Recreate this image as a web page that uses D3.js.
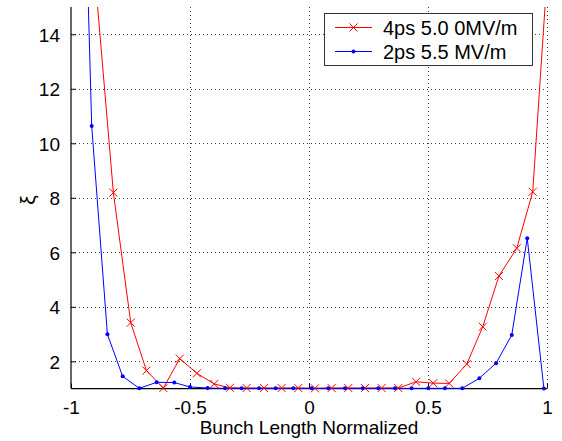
<!DOCTYPE html>
<html>
<head>
<meta charset="utf-8">
<script src="https://cdn.jsdelivr.net/npm/d3@7"></script>
<style>
  html, body { margin: 0; padding: 0; background: #fff; }
  svg { display: block; }
  text { font-family: "Liberation Sans", Arial, Helvetica, sans-serif; fill: #000; }
</style>
</head>
<body>
<svg id="chart" width="562" height="441"></svg>
<script>
// ---- data ----
const seriesNames = ["4ps 5.0 0MV/m", "2ps 5.5 MV/m"];
const redX = [-0.893, -0.822, -0.749, -0.683, -0.612, -0.543, -0.471, -0.398, -0.332,
  -0.262, -0.189, -0.115, -0.045, 0.025, 0.095, 0.165, 0.235, 0.305, 0.375,
  0.450, 0.522, 0.589, 0.663, 0.730, 0.798, 0.873, 0.940, 1.010];
const redY = [15.5, 8.19, 3.42, 1.66, 1.02, 2.1, 1.56, 1.17, 1.03,
  1.02, 1.02, 1.02, 1.02, 1.01, 1.02, 1.02, 1.02, 1.02, 1.02,
  1.25, 1.2, 1.19, 1.9, 3.27, 5.13, 6.15, 8.22, 17.4];
const blueX = [-0.983, -0.913, -0.847, -0.783, -0.713, -0.640, -0.566, -0.500, -0.426,
  -0.353, -0.283, -0.210, -0.140, -0.066, 0.011, 0.081, 0.151, 0.226, 0.291, 0.361,
  0.431, 0.501, 0.571, 0.644, 0.716, 0.786, 0.852, 0.917, 0.987];
const blueY = [32.5, 10.63, 2.99, 1.45, 1.01, 1.23, 1.22, 1.06, 1.02,
  1.01, 1.01, 1.01, 1.01, 1.01, 1.01, 1.01, 1.01, 1.01, 1.01, 1.01,
  1.01, 1.01, 1.01, 1.01, 1.38, 1.93, 2.97, 6.52, 1.0];
const xTicks = [-1, -0.5, 0, 0.5, 1];
const xTickLabels = ["-1", "-0.5", "0", "0.5", "1"];
const yTicks = [2, 4, 6, 8, 10, 12, 14];
const yTickLabels = ["2", "4", "6", "8", "10", "12", "14"];
const xLabel = "Bunch Length Normalized";
const yLabel = "ξ";

// ---- layout ----
const L = 71, R = 547, T = 7, B = 388.6;
const svg = d3.select("#chart");
const x = d3.scaleLinear().domain([-1, 1]).range([L, R]);
const y = d3.scaleLinear().domain([1, 15]).range([B, T]);

svg.append("defs").append("clipPath").attr("id", "plotclip")
  .append("rect").attr("x", L).attr("y", T).attr("width", R - L).attr("height", B - T + 3);

// grid
const grid = svg.append("g").attr("stroke", "#000").attr("stroke-width", 1)
  .attr("stroke-dasharray", "1,3").attr("opacity", 0.75);
yTicks.forEach(v => {
  grid.append("line").attr("x1", L).attr("x2", R)
    .attr("y1", Math.round(y(v)) + 0.5).attr("y2", Math.round(y(v)) + 0.5);
});
xTicks.filter(v => v > -1).forEach(v => {
  grid.append("line").attr("y1", T).attr("y2", B)
    .attr("x1", Math.round(x(v)) + 0.5).attr("x2", Math.round(x(v)) + 0.5);
});

// axes
const xAxis = d3.axisBottom(x).tickValues(xTicks).tickSize(-5).tickPadding(11)
  .tickFormat((d, i) => xTickLabels[i]);
const yAxis = d3.axisLeft(y).tickValues(yTicks).tickSize(-5).tickPadding(11)
  .tickFormat((d, i) => yTickLabels[i]);

const gx = svg.append("g").attr("transform", `translate(0,${B})`).call(xAxis);
const gy = svg.append("g").attr("transform", `translate(${L},0)`).call(yAxis);
[gx, gy].forEach(g => {
  g.select(".domain").remove();
  g.selectAll("line").attr("stroke", "#000");
  g.selectAll("text").attr("font-size", 19)
    .attr("font-family", '"Liberation Sans", Arial, Helvetica, sans-serif').attr("fill", "#000");
});
gx.selectAll("text").attr("dy", "0.75em");
gy.selectAll("text").attr("dy", "0.36em");
svg.append("line").attr("x1", L).attr("x2", R).attr("y1", B).attr("y2", B)
  .attr("stroke", "#000").attr("stroke-width", 1.2);
svg.append("line").attr("x1", L).attr("x2", L).attr("y1", T).attr("y2", B)
  .attr("stroke", "#000").attr("stroke-width", 1.2);

// labels
svg.append("text").attr("x", (L + R) / 2).attr("y", 434).attr("text-anchor", "middle")
  .attr("font-size", 19).text(xLabel);
svg.append("text").attr("transform", `translate(35,200) rotate(-90)`)
  .attr("text-anchor", "middle").attr("font-size", 21).text(yLabel);

// series
const redData = redX.map((v, i) => [v, redY[i]]);
const blueData = blueX.map((v, i) => [v, blueY[i]]);
const line = d3.line().x(d => x(d[0])).y(d => y(d[1]));
const plot = svg.append("g");
plot.append("path").datum(redData).attr("d", line).attr("fill", "none")
  .attr("stroke", "#ff0000").attr("stroke-width", 1).attr("clip-path", "url(#plotclip)");
plot.append("path").datum(blueData).attr("d", line).attr("fill", "none")
  .attr("stroke", "#0000ff").attr("stroke-width", 1).attr("clip-path", "url(#plotclip)");

const inDom = d => d[0] >= -1 && d[0] <= 1 && d[1] <= 15;
const s = 4;
plot.append("g").selectAll("path").data(redData.filter(inDom)).join("path")
  .attr("d", d => {
    const cx = x(d[0]), cy = y(d[1]);
    return `M${cx - s},${cy - s}L${cx + s},${cy + s}M${cx - s},${cy + s}L${cx + s},${cy - s}`;
  })
  .attr("stroke", "#ff0000").attr("stroke-width", 1).attr("fill", "none");
plot.append("g").selectAll("circle").data(blueData.filter(inDom)).join("circle")
  .attr("cx", d => x(d[0])).attr("cy", d => y(d[1])).attr("r", 2).attr("fill", "#0000ff");

// legend
const lg = svg.append("g");
lg.append("rect").attr("x", 324.5).attr("y", 13.5).attr("width", 208).attr("height", 52)
  .attr("fill", "#fff").attr("stroke", "#333").attr("stroke-width", 1);
const rows = [27.5, 51.5];
const colors = ["#ff0000", "#0000ff"];
rows.forEach((ry, i) => {
  lg.append("line").attr("x1", 335).attr("x2", 372).attr("y1", ry).attr("y2", ry)
    .attr("stroke", colors[i]).attr("stroke-width", 1);
  if (i === 0) {
    const cx = 353.5;
    lg.append("path").attr("d", `M${cx - s},${ry - s}L${cx + s},${ry + s}M${cx - s},${ry + s}L${cx + s},${ry - s}`)
      .attr("stroke", colors[i]).attr("fill", "none");
  } else {
    lg.append("circle").attr("cx", 353.5).attr("cy", ry).attr("r", 2).attr("fill", colors[i]);
  }
  lg.append("text").attr("x", 383).attr("y", ry + 7).attr("font-size", 20).text(seriesNames[i]);
});
</script>
</body>
</html>
